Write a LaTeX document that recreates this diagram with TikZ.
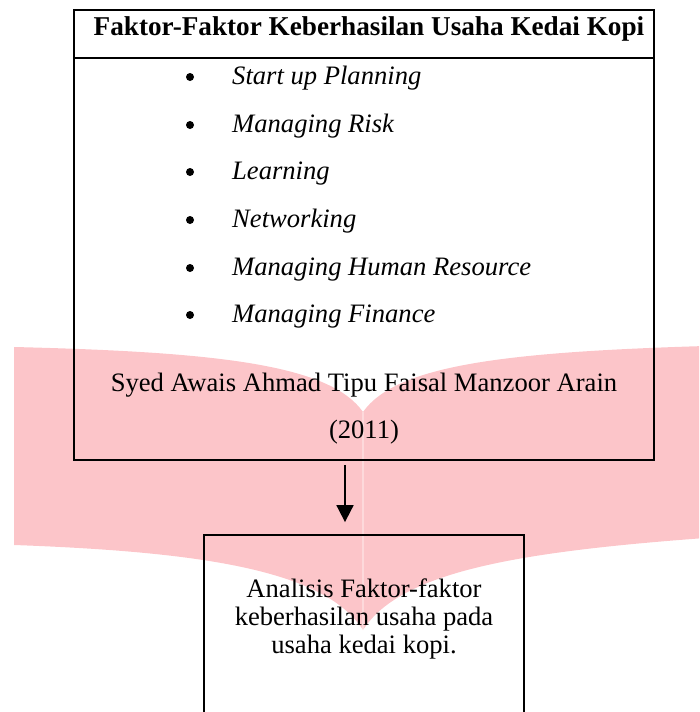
\documentclass[tikz,border=0pt]{standalone}
\usepackage{fontspec}
\setmainfont{Liberation Serif}[
	BoldFont = Liberation Serif Bold,
	ItalicFont = Liberation Serif Italic]
\usetikzlibrary{arrows.meta}

\definecolor{bookpink}{RGB}{252,197,201}

\tikzset{
	kotak/.style = {draw, line width = 1.8pt, inner sep = 0pt},
	teks/.style = {anchor = base, inner sep = 0pt, font = \fontsize{26.6}{28}\selectfont},
	butir/.style = {anchor = base west, inner sep = 0pt, font = \fontsize{26.6}{28}\selectfont\itshape},
	titik/.style = {circle, fill, inner sep = 0pt, minimum size = 8pt},
}

\begin{document}
\begin{tikzpicture}[x = 1pt, y = -1pt]
	
	\useasboundingbox (0,0) rectangle (699,712);
	\clip (0,0) rectangle (699,712);
	
	% watermark
	\fill[bookpink] (14,347) .. controls (220,352) and (330,365) .. (363,412)
		.. controls (396,365) and (506,352) .. (705,346) -- (705,538)
		.. controls (516,552) and (400,572) .. (363,630)
		.. controls (326,572) and (210,552) .. (14,545) -- cycle;
	\draw[white, opacity = 0.35, line width = 1.5pt] (363,412) to (363,630);
	
	\node[kotak, minimum width = 580pt, minimum height = 450pt] (faktor) at (364, 235) {};
	\node[kotak, minimum width = 320pt, minimum height = 200pt] (analisis) at (364, 635) {};
	
	\coordinate (garis) at (0, 58);
	\draw[line width = 1.8pt] (faktor.west |- garis) to (faktor.east |- garis);
	
	\node[teks, font = \fontsize{27.2}{28}\selectfont\bfseries] (judul) at (369, 35) {Faktor-Faktor Keberhasilan Usaha Kedai Kopi};
	
	\node[titik] (b1) at (190, 77) {};
	\node[titik] (b2) at (190, 125) {};
	\node[titik] (b3) at (190, 172) {};
	\node[titik] (b4) at (190, 220) {};
	\node[titik] (b5) at (190, 268) {};
	\node[titik] (b6) at (190, 315) {};
	
	\node[butir] (startup) at (232, 84) {Start up Planning};
	\node[butir] (risk) at (232, 132) {Managing Risk};
	\node[butir] (learning) at (232, 179) {Learning};
	\node[butir] (network) at (232, 227) {Networking};
	\node[butir] (human) at (232, 275) {Managing Human Resource};
	\node[butir] (finance) at (232, 322) {Managing Finance};
	
	\node[teks] (sumber) at (364, 391) {Syed Awais Ahmad Tipu Faisal Manzoor Arain};
	\node[teks] (tahun) at (364, 438) {(2011)};
	
	\draw[line width = 1.8pt, -{Triangle[width = 17pt, length = 17pt]}, shorten < = 4pt, shorten > = 12pt] ([xshift = -19pt]faktor.south) to ([xshift = -19pt]analisis.north);
	
	\node[teks] (a1) at (364, 597) {Analisis Faktor-faktor};
	\node[teks] (a2) at (364, 625) {keberhasilan usaha pada};
	\node[teks] (a3) at (364, 653) {usaha kedai kopi.};
\end{tikzpicture}
\end{document}
